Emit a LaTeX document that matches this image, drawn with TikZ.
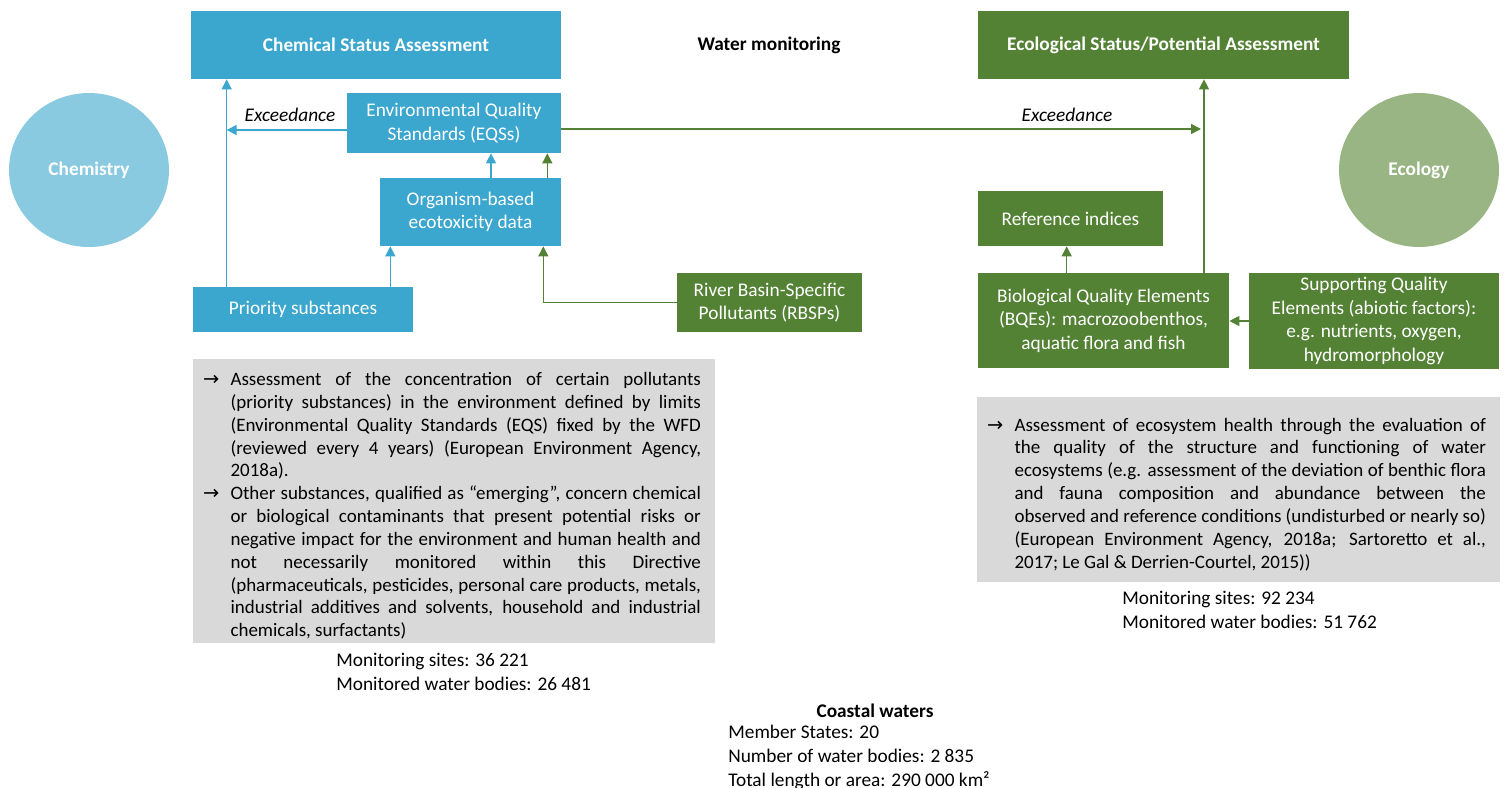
\documentclass[tikz,border=0pt]{standalone}
\usepackage{fontspec}
\setmainfont{Carlito}
\newfontfamily\symfont{DejaVu Sans}
\usepackage{xcolor}
\usetikzlibrary{arrows.meta,calc,shapes.geometric}

\definecolor{chemblue}{HTML}{3BA6CE}
\definecolor{chemlight}{HTML}{8ACAE1}
\definecolor{ecogreen}{HTML}{548235}
\definecolor{ecolight}{HTML}{9AB584}
\definecolor{notegray}{HTML}{D9D9D9}

\newcommand{\txt}{\fontsize{11pt}{13.4pt}\selectfont}
\newcommand{\notetxt}{\fontsize{10.8pt}{13pt}\selectfont\hyphenpenalty=10000\exhyphenpenalty=10000}
\newcommand{\pointitem}{\par\noindent\hangindent=0.47cm\hangafter=1\makebox[0.47cm][l]{\hspace{-0.08cm}{\symfont\fontsize{11pt}{13pt}\selectfont →}}}

\tikzset{
  box/.style={rectangle, inner sep=0pt, text=white, align=center, font=\txt},
  bluebox/.style={box, fill=chemblue},
  greenbox/.style={box, fill=ecogreen},
  titlebox/.style={font=\txt\bfseries},
  blob/.style={ellipse, inner sep=0pt, minimum width=3.2cm, minimum height=3.08cm, text=white, font=\txt\bfseries},
  notebox/.style={rectangle, fill=notegray, inner xsep=0.28cm, inner ysep=0pt, align=justify, font=\notetxt},
  bluearrow/.style={draw=chemblue, line width=0.75pt, -{Triangle[length=2mm,width=2mm]}},
  greenarrow/.style={draw=ecogreen, line width=0.75pt, -{Triangle[length=2mm,width=2mm]}},
  plain/.style={inner sep=0pt, font=\fontsize{11pt}{13.6pt}\selectfont, align=left}
}

\begin{document}
\begin{tikzpicture}[x=0.02cm, y=-0.02cm]
\useasboundingbox (0,0) rectangle (1509,788);

% headers
\node[bluebox, titlebox, minimum width=7.4cm, minimum height=1.36cm] (csa) at (376,45) {Chemical Status Assessment};
\node[greenbox, titlebox, minimum width=7.42cm, minimum height=1.36cm] (esa) at (1163.5,45) {Ecological Status/Potential Assessment};
\node[plain, font=\txt\bfseries] (wm) at (769,45) {Water monitoring};
\node[blob, fill=chemlight] (chemistry) at (89,170) {Chemistry};
\node[blob, fill=ecolight] (ecology) at (1419,170) {Ecology};

% chemistry side
\node[bluebox, minimum width=4.28cm, minimum height=1.2cm] (eqs) at (454,123) {Environmental Quality\\Standards (EQSs)};
\node[bluebox, minimum width=3.62cm, minimum height=1.36cm] (org) at (470.5,212) {Organism-based\\ecotoxicity data};
\node[bluebox, minimum width=4.4cm, minimum height=0.9cm] (prio) at (303,309.5) {Priority substances};
\node[greenbox, minimum width=3.7cm, minimum height=1.18cm] (rbsp) at (769.5,302.5) {River Basin-Specific\\Pollutants (RBSPs)};

% ecology side
\node[greenbox, minimum width=3.7cm, minimum height=1.1cm] (ref) at (1070.5,218.5) {Reference indices};
\node[greenbox, minimum width=5.02cm, minimum height=1.9cm] (bqe) at (1103.5,320.5) {Biological Quality Elements\\(BQEs): macrozoobenthos,\\aquatic flora and fish};
\node[greenbox, minimum width=5.0cm, minimum height=1.92cm] (supp) at (1374,321) {\rule{0pt}{6pt}Supporting Quality\\Elements (abiotic factors):\\e.g. nutrients, oxygen,\\hydromorphology};

% connectors, chemistry
\coordinate (p1) at ($(prio.north west)+(34,0)$);
\coordinate (p2) at ($(prio.north east)+(-23,0)$);
\coordinate (o1) at ($(org.north)+(20.5,0)$);
\coordinate (o2) at ($(org.north east)+(-14,0)$);
\coordinate (e1) at ($(eqs.west)+(0,7)$);
\coordinate (e2) at ($(eqs.east)+(0,6)$);
\draw[bluearrow] (p1) -- (p1 |- csa.south);
\draw[bluearrow] (e1) -- (e1 -| p1);
\node[plain, font=\txt\itshape] (exc1) at (290,115) {Exceedance};
\draw[bluearrow] (p2) -- (p2 |- org.south);
\draw[bluearrow] (o1) -- (o1 |- eqs.south);
\draw[greenarrow] (o2) -- (o2 |- eqs.south);
\draw[greenarrow] (rbsp.west) -| ($(org.south east)+(-18,0)$);

% connectors, ecology
\coordinate (b1) at ($(bqe.north)+(100.5,0)$);
\coordinate (b2) at ($(bqe.north west)+(89,0)$);
\draw[greenarrow] (b1) -- (b1 |- esa.south);
\draw[greenarrow, shorten >=0.06cm] (e2) -- (e2 -| b1);
\node[plain, font=\txt\itshape] (exc2) at (1067,115) {Exceedance};
\draw[greenarrow] (b2) -- (b2 |- ref.south);
\draw[greenarrow] (supp.west) -- (supp.west -| bqe.east);

% notes
\node[notebox, text width=9.88cm, minimum height=5.68cm] (chemnote) at (454,501) {%
\pointitem Assessment of the concentration of certain pollutants\linebreak
(priority substances) in the environment defined by limits\linebreak
(Environmental Quality Standards (EQS) fixed by the WFD\linebreak
(reviewed every 4 years) (European Environment Agency,\linebreak
2018a).
\pointitem Other substances, qualified as “emerging”, concern chemical\linebreak
or biological contaminants that present potential risks or\linebreak
negative impact for the environment and human health and\linebreak
not necessarily monitored within this Directive\linebreak
(pharmaceuticals, pesticides, personal care products, metals,\linebreak
industrial additives and solvents, household and industrial\linebreak
chemicals, surfactants)\par};
\node[notebox, text width=9.9cm, minimum height=3.7cm] (econote) at (1238.5,489.5) {%
\pointitem Assessment of ecosystem health through the evaluation of\linebreak
the quality of the structure and functioning of water\linebreak
ecosystems (e.g. assessment of the deviation of benthic flora\linebreak
and fauna composition and abundance between the\linebreak
observed and reference conditions (undisturbed or nearly so)\linebreak
(European Environment Agency, 2018a; Sartoretto et al.,\linebreak
2017; Le Gal \& Derrien-Courtel, 2015))\par};

% figures
\node[plain, anchor=north west] (chemsites) at (336,653) {Monitoring sites: 36 221\\Monitored water bodies: 26 481};
\node[plain, anchor=north west] (ecosites) at (1122,591) {Monitoring sites: 92 234\\Monitored water bodies: 51 762};
\node[plain, font=\txt\bfseries] (coast) at (875,711) {Coastal waters};
\node[plain, anchor=north west] (coastdata) at (728,725) {Member States: 20\\Number of water bodies: 2 835\\Total length or area: 290 000 km²};
\end{tikzpicture}
\end{document}
